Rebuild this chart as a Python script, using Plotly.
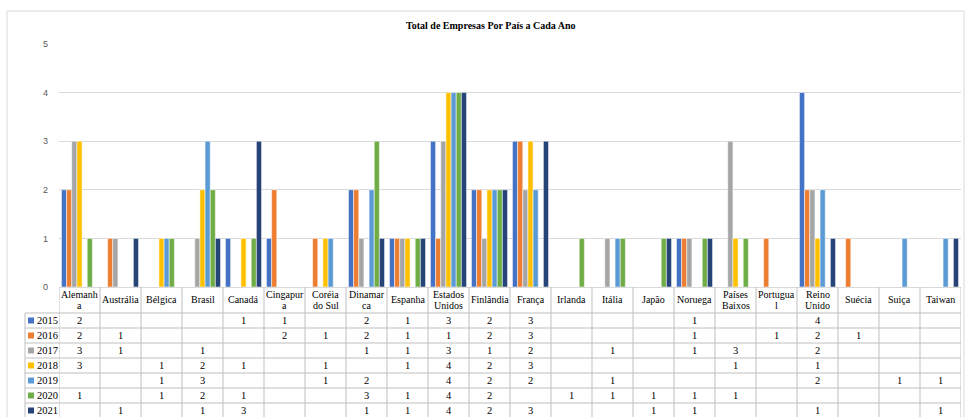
import plotly.graph_objects as go

countries = ["Alemanha", "Austrália", "Bélgica", "Brasil", "Canadá", "Cingapura", "Coréia do Sul",
             "Dinamarca", "Espanha", "Estados Unidos", "Finlândia", "França", "Irlanda", "Itália",
             "Japão", "Noruega", "Países Baixos", "Portugual", "Reino Unido", "Suécia", "Suiça", "Taiwan"]
header_labels = ["Alemanh<br>a", "Austrália", "Bélgica", "Brasil", "Canadá", "Cingapur<br>a", "Coréia<br>do Sul",
                 "Dinamar<br>ca", "Espanha", "Estados<br>Unidos", "Finlândia", "França", "Irlanda", "Itália",
                 "Japão", "Noruega", "Países<br>Baixos", "Portugua<br>l", "Reino<br>Unido", "Suécia", "Suiça", "Taiwan"]
years = ["2015", "2016", "2017", "2018", "2019", "2020", "2021"]
N = None
v2015 = [2, N, N, N, 1, 1, N, 2, 1, 3, 2, 3, N, N, N, 1, N, N, 4, N, N, N]
v2016 = [2, 1, N, N, N, 2, 1, 2, 1, 1, 2, 3, N, N, N, 1, N, 1, 2, 1, N, N]
v2017 = [3, 1, N, 1, N, N, N, 1, 1, 3, 1, 2, N, 1, N, 1, 3, N, 2, N, N, N]
v2018 = [3, N, 1, 2, 1, N, 1, N, 1, 4, 2, 3, N, N, N, N, 1, N, 1, N, N, N]
v2019 = [N, N, 1, 3, N, N, 1, 2, N, 4, 2, 2, N, 1, N, N, N, N, 2, N, 1, 1]
v2020 = [1, N, 1, 2, 1, N, N, 3, 1, 4, 2, N, 1, 1, 1, 1, 1, N, N, N, N, N]
v2021 = [N, 1, N, 1, 3, N, N, 1, 1, 4, 2, 3, N, N, 1, 1, N, N, 1, N, N, 1]
series = [v2015, v2016, v2017, v2018, v2019, v2020, v2021]
colors = ["#4472C4", "#ED7D31", "#A5A5A5", "#FFC000", "#5B9BD5", "#70AD47", "#264478"]

W, H = 965, 417
L, R, T, B = 59, 4, 44, 130
PW, PH = W - L - R, H - T - B

def px_x(px):
    return (px - L) / PW

def px_y(py):
    return (H - B - py) / PH

fig = go.Figure()
for yr, vals, col in zip(years, series, colors):
    fig.add_trace(go.Bar(x=countries, y=vals, name=yr, marker=dict(color=col, line=dict(width=0.5, color="white"))))

serif = "Liberation Serif, Times New Roman, serif"
FS = 10
ann = []
shapes = []
line_col = "#BFBFBF"

# title
ann.append(dict(text="<b>Total de Empresas Por País a Cada Ano</b>", x=px_x(491), y=px_y(25), xref="paper", yref="paper",
                xanchor="center", yanchor="middle", showarrow=False, font=dict(family=serif, size=10, color="#000")))

# chart border
shapes.append(dict(type="rect", xref="paper", yref="paper", x0=px_x(7), x1=px_x(964), y0=px_y(430), y1=px_y(11),
                   line=dict(color="#D9D9D9", width=1), fillcolor="rgba(0,0,0,0)", layer="below"))

# table geometry
row_top = 313
row_h = 15
bottom_y = row_top + row_h * 7
n = len(countries)

for i in range(n + 1):
    shapes.append(dict(type="line", xref="x", yref="paper", x0=i - 0.5, x1=i - 0.5, y0=px_y(287), y1=px_y(bottom_y),
                       line=dict(color=line_col, width=1)))
shapes.append(dict(type="line", xref="paper", yref="paper", x0=px_x(25), x1=px_x(25), y0=px_y(row_top), y1=px_y(bottom_y),
                   line=dict(color=line_col, width=1)))
for r in range(8):
    yy = row_top + r * row_h
    shapes.append(dict(type="line", xref="paper", yref="paper", x0=px_x(25), x1=1, y0=px_y(yy), y1=px_y(yy),
                       line=dict(color=line_col, width=1)))

# header labels (one annotation per wrapped line)
for c, lab in zip(countries, header_labels):
    parts = lab.split("<br>")
    ys = [299] if len(parts) == 1 else [294, 305]
    for part, yy in zip(parts, ys):
        ann.append(dict(text=part, x=c, y=px_y(yy), xref="x", yref="paper", showarrow=False,
                        xanchor="center", yanchor="middle", font=dict(family=serif, size=FS, color="#000")))

# rows
for r, (yr, vals, col) in enumerate(zip(years, series, colors)):
    cy = row_top + r * row_h + row_h / 2
    shapes.append(dict(type="rect", xref="paper", yref="paper", x0=px_x(28), x1=px_x(34), y0=px_y(cy + 3), y1=px_y(cy - 3),
                       fillcolor=col, line=dict(width=0)))
    ann.append(dict(text=yr, x=px_x(35), y=px_y(cy), xref="paper", yref="paper", showarrow=False,
                    xanchor="left", yanchor="middle", font=dict(family=serif, size=FS + 0.5, color="#000")))
    for c, v in zip(countries, vals):
        if v is not None:
            ann.append(dict(text=str(v), x=c, y=px_y(cy), xref="x", yref="paper", showarrow=False,
                            xanchor="center", yanchor="middle", font=dict(family=serif, size=FS + 0.5, color="#000")))

fig.update_layout(
    width=W, height=H,
    margin=dict(l=L, r=R, t=T, b=B, pad=0),
    paper_bgcolor="white", plot_bgcolor="white",
    barmode="group", bargap=0.12, bargroupgap=0,
    showlegend=False,
    annotations=ann, shapes=shapes,
    xaxis=dict(showticklabels=False, showline=True, linecolor="#D9D9D9", linewidth=1, ticks="",
               showgrid=False, range=[-0.5, n - 0.5]),
    yaxis=dict(range=[0, 5], dtick=1, showgrid=True, gridcolor="#D9D9D9", gridwidth=1, zeroline=False,
               showline=False, ticks="", tickfont=dict(family="Liberation Sans, Arial", size=9, color="#595959"),
               ticklabelstandoff=10),
)

fig.write_html("out.html")
